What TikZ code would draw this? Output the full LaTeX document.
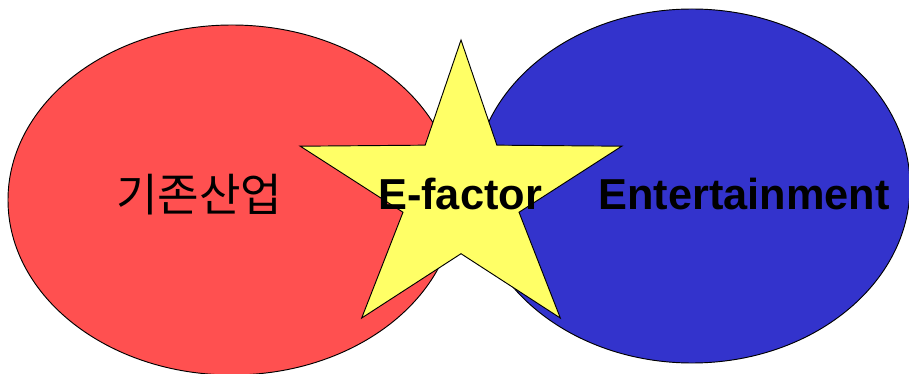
\documentclass[tikz,border=0pt]{standalone}
\usepackage{fontspec}
\setmainfont{Liberation Sans}
\newfontfamily\krfont{Noto Sans CJK KR}
\usepackage{tikz}
\usetikzlibrary{positioning}
\usepackage{xcolor}
\definecolor{oldred}{HTML}{FF5050}
\definecolor{funblue}{HTML}{3333CC}
\definecolor{staryellow}{HTML}{FFFF66}

\begin{document}
\begin{tikzpicture}[x=0.03cm, y=-0.03cm,
    blob/.style={draw=black, line width=0.8pt},
    label/.style={font=\fontsize{37}{40}\selectfont\bfseries, text=black, inner sep=0pt}]
  \useasboundingbox (0,0) rectangle (909,374);

  \fill[white] (0,0) rectangle (909,374);

  \filldraw[blob, fill=oldred] (232,200) ellipse (224 and 175);
  \filldraw[blob, fill=funblue] (692,186) ellipse (218 and 177);

  % five-pointed star, a bit wider than tall
  \filldraw[blob, fill=staryellow]
    plot[samples at={0,...,9}]
      ({461+ifthenelse(mod(\x,2)==0,169,61)*cos(90+36*\x)},
       {193.7-ifthenelse(mod(\x,2)==0,153.7,60)*sin(90+36*\x)}) -- cycle;

  \node[font=\krfont\fontsize{38.5}{42}\selectfont, inner sep=0pt] (industry) at (199,195) {기존산업};
  \node[label] (efactor) at (460,194) {E-factor};
  \node[label] (entertain) at (744,194) {Entertainment};
\end{tikzpicture}
\end{document}
